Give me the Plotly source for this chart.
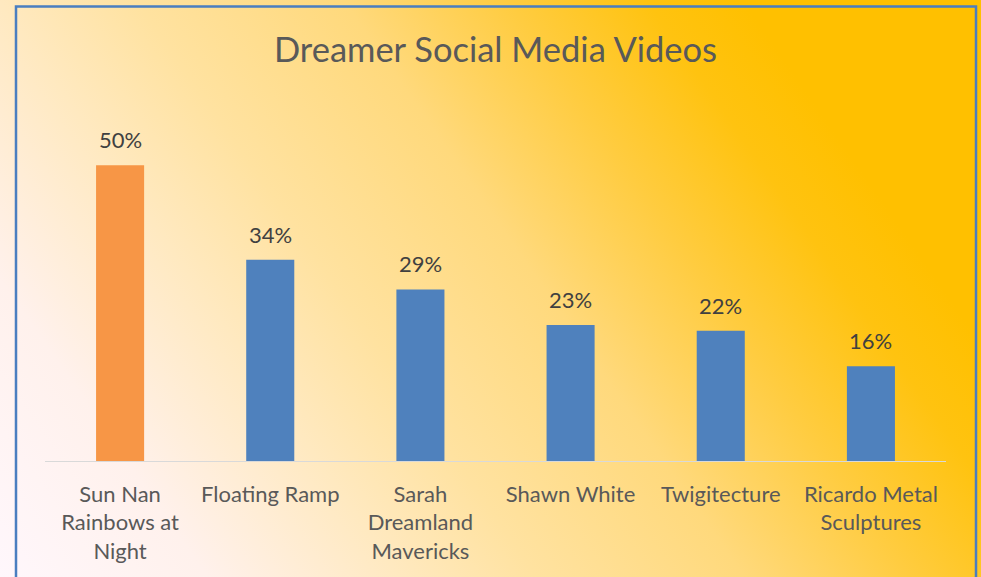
import base64
import plotly.graph_objects as go

categories = ["Sun Nan<br>Rainbows at<br>Night", "Floating Ramp", "Sarah<br>Dreamland<br>Mavericks",
              "Shawn White", "Twigitecture", "Ricardo Metal<br>Sculptures"]
values = [0.50, 0.34, 0.29, 0.23, 0.22, 0.16]
bar_colors = ["#F79646", "#4F81BD", "#4F81BD", "#4F81BD", "#4F81BD", "#4F81BD"]
title_text = "Dreamer Social Media Videos"

W, H = 981, 577
ML, MR, MT, MB = 45, 35, 106, 116
PW, PH = W - ML - MR, H - MT - MB

svg = f'''<svg xmlns="http://www.w3.org/2000/svg" width="{W}" height="{H}" viewBox="0 0 {W} {H}" preserveAspectRatio="none">
<defs><linearGradient id="g" gradientUnits="userSpaceOnUse" x1="0" y1="577" x2="929" y2="-69">
<stop offset="0" stop-color="#FFF7FC"/>
<stop offset="0.15" stop-color="#FFF1EC"/>
<stop offset="0.29" stop-color="#FFE9C0"/>
<stop offset="0.39" stop-color="#FFE2A0"/>
<stop offset="0.54" stop-color="#FFD97C"/>
<stop offset="0.66" stop-color="#FFCC40"/>
<stop offset="0.76" stop-color="#FFC310"/>
<stop offset="0.83" stop-color="#FFC000"/>
<stop offset="1" stop-color="#FFC000"/>
</linearGradient></defs>
<rect x="0" y="0" width="{W}" height="{H}" fill="url(#g)"/>
</svg>'''
src = "data:image/svg+xml;base64," + base64.b64encode(svg.encode()).decode()

FONT = "Lato"

fig = go.Figure(go.Bar(x=categories, y=values, marker_color=bar_colors, width=0.32,
                       marker_line_width=0, hoverinfo="skip"))

annotations = [dict(x=c, y=v, text=f"{round(v*100)}%", showarrow=False, yanchor="bottom",
                    yshift=10, font=dict(family=FONT, size=22, color="#404040"))
               for c, v in zip(categories, values)]

fig.update_layout(
    width=W, height=H,
    margin=dict(l=ML, r=MR, t=MT, b=MB),
    paper_bgcolor="#FFD870", plot_bgcolor="rgba(0,0,0,0)",
    title=dict(text=title_text, x=(ML + PW / 2) / W, xanchor="center", xref="container",
               y=1 - 50 / H, yanchor="middle", yref="container",
               font=dict(family=FONT, size=34.5, color="#595959")),
    showlegend=False,
    bargap=0.68,
    annotations=annotations,
    images=[dict(source=src, xref="paper", yref="paper", x=-ML / PW, y=1 + MT / PH,
                 sizex=W / PW, sizey=H / PH, sizing="stretch", xanchor="left", yanchor="top",
                 layer="below")],
    shapes=[dict(type="rect", xref="paper", yref="paper",
                 x0=(16 - ML) / PW, x1=(976 - ML) / PW,
                 y0=(PH + MT - 590) / PH, y1=1 + (MT - 6.5) / PH,
                 line=dict(color="#4A7EC0", width=2.5), fillcolor="rgba(0,0,0,0)", layer="above")],
)
fig.update_xaxes(showline=True, linecolor="#D9D9D9", linewidth=1.3, showgrid=False, zeroline=False,
                 ticks="", ticklabelstandoff=13,
                 tickfont=dict(family=FONT, size=22, color="#595959"))
fig.update_yaxes(range=[0, 0.6], visible=False, showgrid=False, zeroline=False)

fig.write_html("out.html")
